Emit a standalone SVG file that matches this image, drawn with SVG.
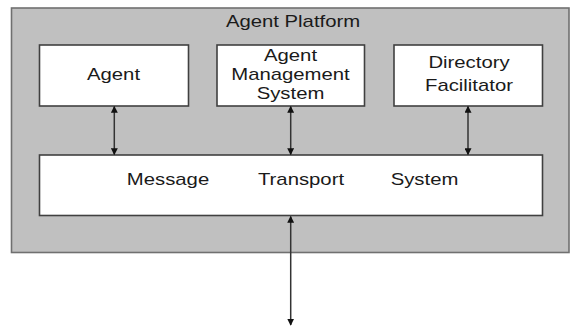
<svg xmlns="http://www.w3.org/2000/svg" width="572" height="326" viewBox="0 0 572 326">
<defs>
<style>
.box{fill:#ffffff;stroke:#404040;stroke-width:1.6}
.outer{fill:#c0c0c0;stroke:#707070;stroke-width:1.6}
.t{font-family:"Liberation Sans",Arial,sans-serif;font-size:16px;fill:#1a1a1a;text-anchor:middle}
.c{stroke:#333333;stroke-width:1.5;fill:none;marker-start:url(#ah);marker-end:url(#ah)}
</style>
<marker id="ah" viewBox="0 0 10 10" refX="9" refY="5" markerWidth="7" markerHeight="7" markerUnits="userSpaceOnUse" orient="auto-start-reverse">
<path d="M0,0 L10,5 L0,10 z" fill="#111111"/>
</marker>
</defs>
<rect width="572" height="326" fill="#ffffff"/>
<g id="platform">
<rect class="outer" x="11.5" y="8" width="557.5" height="244.5"/>
<text class="t" transform="translate(293,27) scale(1.27,1)">Agent Platform</text>
</g>
<g id="agent">
<rect class="box" x="39.5" y="45" width="149" height="61"/>
<text class="t" transform="translate(113.5,79.5) scale(1.27,1)">Agent</text>
</g>
<g id="ams">
<rect class="box" x="217" y="45" width="147.5" height="61"/>
<text class="t" transform="translate(290.5,61) scale(1.27,1)">Agent</text>
<text class="t" transform="translate(290.5,80) scale(1.27,1)">Management</text>
<text class="t" transform="translate(290.5,99) scale(1.27,1)">System</text>
</g>
<g id="df">
<rect class="box" x="394" y="45" width="148.5" height="61"/>
<text class="t" transform="translate(469,68) scale(1.27,1)">Directory</text>
<text class="t" transform="translate(469,90.5) scale(1.27,1)">Facilitator</text>
</g>
<g id="mts">
<rect class="box" x="39.5" y="155" width="503" height="60.5"/>
<text class="t" transform="translate(168,184.5) scale(1.27,1)">Message</text>
<text class="t" transform="translate(301,184.5) scale(1.27,1)">Transport</text>
<text class="t" transform="translate(424.5,184.5) scale(1.27,1)">System</text>
</g>
<g id="connectors">
<line class="c" x1="114.3" y1="106.5" x2="114.3" y2="154.5"/>
<line class="c" x1="290.7" y1="106.5" x2="290.7" y2="154.5"/>
<line class="c" x1="468" y1="106.5" x2="468" y2="154.5"/>
<line class="c" x1="290.7" y1="216.5" x2="290.7" y2="325"/>
</g>
</svg>
